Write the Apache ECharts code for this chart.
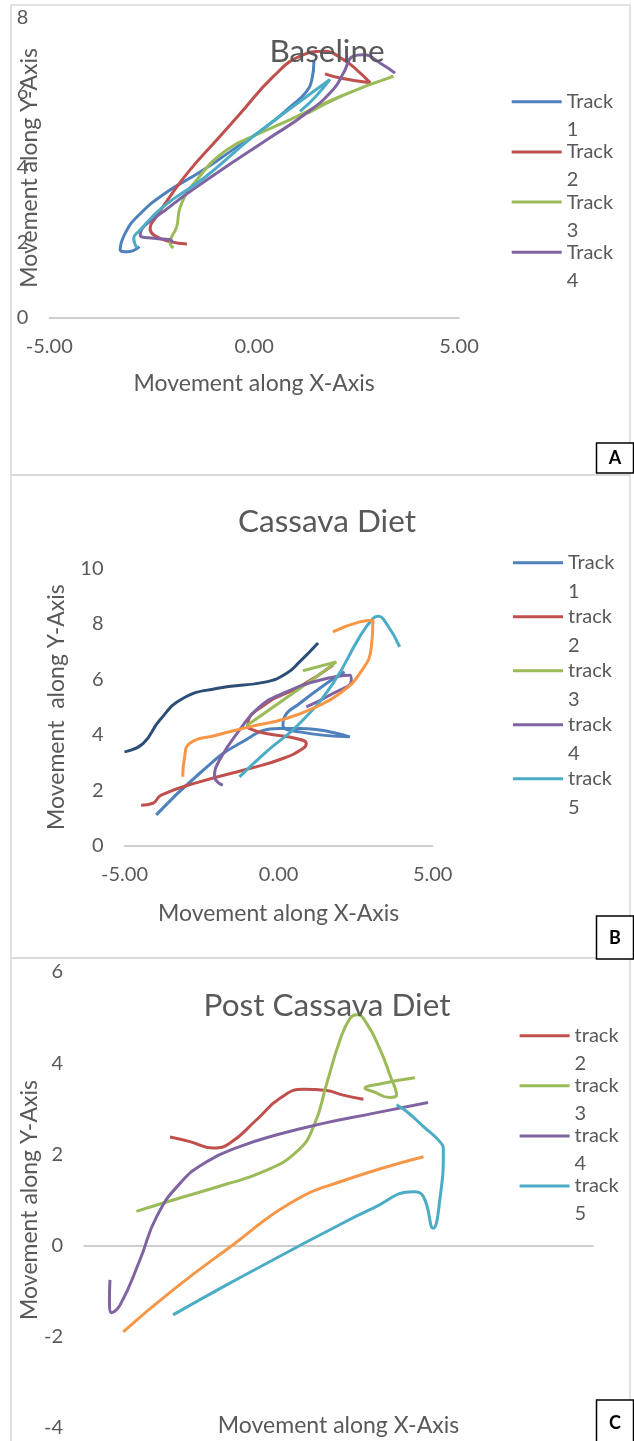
<!DOCTYPE html>
<html>
<head>
<meta charset="utf-8">
<script src="https://cdn.jsdelivr.net/npm/echarts@6/dist/echarts.min.js"></script>
<style>
  html, body { margin: 0; padding: 0; background: #fff; }
  #chart { width: 634px; height: 1441px; }
</style>
</head>
<body>
<div id="chart"></div>
<script>
// axis ticks
const xTicks = [-5, 0, 5]
const yTicksA = [0, 2, 4, 6, 8]
const yTicksB = [0, 2, 4, 6, 8, 10]
const yTicksC = [-4, -2, 0, 2, 4, 6]

// A - Baseline  ([x, y])
const baseTrack1 = [[1.46, 6.85], [1.41, 6.36], [1.25, 6.0], [0.9, 5.65], [0.3, 5.1], [-0.5, 4.5], [-1.3, 3.9], [-2.2, 3.3], [-2.85, 2.7], [-3.15, 2.25], [-3.27, 1.82], [-3.1, 1.76], [-2.8, 1.9]]
const baseTrack2 = [[-1.64, 1.97], [-2.05, 2.03], [-2.45, 2.21], [-2.54, 2.39], [-2.41, 2.66], [-2.05, 3.24], [-1.6, 3.9], [-0.91, 4.75], [-0.34, 5.45], [0.47, 6.44], [1.12, 6.98], [1.69, 7.11], [2.18, 6.89], [2.59, 6.53], [2.83, 6.27], [2.1, 6.4], [1.73, 6.51]]
const baseTrack3 = [[-1.97, 1.86], [-2.05, 2.0], [-1.89, 2.43], [-1.8, 2.97], [-1.4, 3.68], [-0.67, 4.48], [0.15, 4.93], [0.88, 5.29], [2.1, 5.91], [3.4, 6.44], [2.2, 5.95], [1.3, 5.45]]
const baseTrack4 = [[-2.0, 1.99], [-2.05, 2.08], [-2.45, 2.12], [-2.78, 2.21], [-2.05, 2.97], [-0.91, 3.86], [0.31, 4.75], [1.29, 5.47], [1.93, 6.09], [2.18, 6.53], [2.42, 6.98], [2.67, 7.02], [3.07, 6.8], [3.44, 6.53]]
const baseTrack5 = [[-2.86, 1.86], [-2.94, 2.12], [-2.82, 2.3], [-2.21, 2.97], [-1.2, 3.75], [-0.02, 4.84], [1.29, 5.91], [1.85, 6.36], [1.5, 5.9], [1.12, 5.51]]

// B - Cassava Diet
const cassTrack1 = [[-3.97, 1.12], [-2.56, 2.62], [-1.27, 3.69], [0.03, 4.23], [0.68, 4.23], [2.31, 3.93], [0.68, 4.11], [0.14, 4.35], [0.19, 4.65], [0.68, 5.13], [1.55, 5.85], [2.14, 6.27]]
const cassTrack2 = [[-4.46, 1.47], [-4.08, 1.54], [-3.81, 1.83], [-2.56, 2.31], [-0.94, 2.79], [0.14, 3.15], [0.79, 3.51], [0.9, 3.69], [0.57, 3.87], [-0.4, 4.05], [-0.94, 4.23], [-1.0, 4.35], [-0.4, 5.13], [0.68, 5.73], [1.76, 6.51]]
const cassTrack3 = [[0.79, 6.31], [1.87, 6.63], [1.22, 6.09], [0.14, 5.25], [-0.94, 4.41], [-1.05, 4.35]]
const cassTrack4 = [[-1.81, 2.19], [-2.08, 2.49], [-1.92, 3.09], [-1.27, 4.17], [-0.62, 5.01], [0.25, 5.55], [1.33, 5.97], [2.31, 6.15], [2.36, 5.97], [1.76, 5.49], [0.9, 5.01]]
const cassTrack5 = [[-1.27, 2.49], [-0.4, 3.39], [0.68, 4.41], [1.76, 5.85], [2.63, 7.53], [3.06, 8.19], [3.22, 8.27], [3.5, 8.01], [3.93, 7.17]]
const cassTrack6 = [[-3.11, 2.49], [-3.05, 3.21], [-2.89, 3.69], [-2.02, 3.99], [-0.94, 4.29], [0.25, 4.59], [1.22, 5.01], [1.98, 5.49], [2.63, 6.21], [3.01, 7.17], [3.06, 8.13], [2.63, 8.07], [1.76, 7.71]]
const cassTrack7 = [[-5.0, 3.39], [-4.4, 3.69], [-3.86, 4.53], [-3.11, 5.31], [-2.02, 5.67], [-0.4, 5.91], [0.25, 6.21], [0.68, 6.63], [1.28, 7.31]]

// C - Post Cassava Diet
const postTrack2 = [[-3.31, 2.38], [-2.92, 2.28], [-2.46, 2.14], [-2.13, 2.25], [-1.61, 2.76], [-1.15, 3.23], [-0.69, 3.43], [-0.23, 3.4], [0.09, 3.3], [0.49, 3.21]]
const postTrack3 = [[-3.97, 0.75], [-3.25, 1.0], [-2.26, 1.33], [-1.48, 1.62], [-0.82, 2.06], [-0.49, 2.61], [-0.23, 3.56], [0.03, 4.51], [0.23, 4.99], [0.36, 5.06], [0.55, 4.88], [0.82, 4.29], [1.01, 3.74], [1.14, 3.3], [1.01, 3.25], [0.68, 3.38], [0.52, 3.45], [0.88, 3.56], [1.5, 3.68]]
const postTrack4 = [[-4.49, -0.75], [-4.5, -1.19], [-4.46, -1.47], [-4.29, -1.3], [-3.9, -0.31], [-3.57, 0.64], [-3.11, 1.37], [-2.59, 1.84], [-1.94, 2.17], [-1.21, 2.43], [-0.3, 2.68], [0.68, 2.9], [1.76, 3.14]]
const postTrack5 = [[-3.25, -1.52], [-2.26, -0.9], [-1.28, -0.31], [-0.3, 0.27], [0.68, 0.82], [1.47, 1.18], [1.67, 1.07], [1.86, 0.38], [1.99, 1.0], [2.06, 2.1], [1.99, 2.28], [1.67, 2.61], [1.34, 2.94], [1.14, 3.09]]
const postTrack6 = [[-4.23, -1.89], [-3.25, -0.97], [-2.07, 0.02], [-0.95, 0.93], [0.03, 1.4], [1.67, 1.95]]

const colors = {
  blue: '#4F81BD', red: '#C0504D', green: '#9BBB59', purple: '#8064A2',
  aqua: '#4BACC6', orange: '#F79646', navy: '#2C4D75'
}

const font = 'Lato, "Open Sans", sans-serif'
const grey = '#595959'

const chart = echarts.init(document.getElementById('chart'))

function track(name, data, color, gridIndex) {
  return {
    name: name,
    type: 'line',
    xAxisIndex: gridIndex,
    yAxisIndex: gridIndex,
    data: data,
    smooth: 0.5,
    symbol: 'none',
    showSymbol: false,
    lineStyle: { color: color, width: 3 },
    itemStyle: { color: color },
    animation: false
  }
}

function xAxis(gridIndex, nameGap) {
  return {
    type: 'value',
    gridIndex: gridIndex,
    min: xTicks[0],
    max: xTicks[xTicks.length - 1],
    interval: 5,
    name: 'Movement along X-Axis',
    nameLocation: 'middle',
    nameGap: nameGap,
    nameMoveOverlap: false,
    nameTextStyle: { fontFamily: font, fontSize: 23, color: grey },
    axisLine: { onZero: true, lineStyle: { color: '#bfbfbf', width: 1.5 } },
    axisTick: { show: false },
    splitLine: { show: false },
    axisLabel: {
      fontFamily: font, fontSize: 20, color: grey, margin: 19,
      formatter: v => v.toFixed(2)
    }
  }
}

function yAxis(gridIndex, ticks, name, nameGap) {
  return {
    type: 'value',
    gridIndex: gridIndex,
    min: ticks[0],
    max: ticks[ticks.length - 1],
    interval: 2,
    name: name,
    nameLocation: 'middle',
    nameGap: nameGap,
    nameMoveOverlap: false,
    nameTextStyle: { fontFamily: font, fontSize: 23, color: grey },
    axisLine: { show: false },
    axisTick: { show: false },
    splitLine: { show: false },
    axisLabel: { fontFamily: font, fontSize: 20, color: grey, margin: 21 }
  }
}

function legend(names, left, top, lineH, gap) {
  return {
    orient: 'vertical',
    left: left,
    top: top,
    padding: 0,
    icon: 'rect',
    itemWidth: 50,
    itemHeight: 3,
    itemGap: gap,
    data: names,
    formatter: n => ' \n' + n.split('|')[1].replace(' ', '\n'),
    textStyle: { fontFamily: font, fontSize: 20, color: grey, lineHeight: lineH }
  }
}

const titleStyle = { fontFamily: font, fontSize: 31.5, fontWeight: 'normal', color: grey }

const option = {
  animation: false,
  title: [
    { text: 'Baseline', left: 322, top: 31, textAlign: 'center', textStyle: titleStyle },
    { text: 'Cassava Diet', left: 322, top: 501, textAlign: 'center', textStyle: titleStyle },
    { text: 'Post Cassava Diet', left: 322, top: 985, textAlign: 'center', textStyle: titleStyle }
  ],
  grid: [
    { left: 49.3, top: 18, width: 409.7, height: 299.7, outerBoundsMode: 'none', containLabel: false },
    { left: 124.5, top: 568.3, width: 308.2, height: 277.7, outerBoundsMode: 'none', containLabel: false },
    { left: 84, top: 972, width: 509, height: 456, outerBoundsMode: 'none', containLabel: false }
  ],
  xAxis: [xAxis(0, 54), xAxis(1, 56), xAxis(2, -14)],
  yAxis: [
    yAxis(0, yTicksA, 'Movement along Y-Axis', 8),
    yAxis(1, yTicksB, 'Movement  along Y-Axis', 56),
    yAxis(2, yTicksC, 'Movement along Y-Axis', 43)
  ],
  legend: [
    legend(['A|Track 1', 'A|Track 2', 'A|Track 3', 'A|Track 4'], 511.7, 59.7, 28, -33.8),
    legend(['B|Track 1', 'B|track 2', 'B|track 3', 'B|track 4', 'B|track 5'], 513, 519.2, 29, -33),
    legend(['C|track 2', 'C|track 3', 'C|track 4', 'C|track 5'], 519.6, 993.7, 28, -33.9)
  ],
  series: [
    track('A|Track 1', baseTrack1, colors.blue, 0),
    track('A|Track 2', baseTrack2, colors.red, 0),
    track('A|Track 3', baseTrack3, colors.green, 0),
    track('A|Track 4', baseTrack4, colors.purple, 0),
    track('A|extra 5', baseTrack5, colors.aqua, 0),
    track('B|Track 1', cassTrack1, colors.blue, 1),
    track('B|track 2', cassTrack2, colors.red, 1),
    track('B|track 3', cassTrack3, colors.green, 1),
    track('B|track 4', cassTrack4, colors.purple, 1),
    track('B|track 5', cassTrack5, colors.aqua, 1),
    track('B|extra 6', cassTrack6, colors.orange, 1),
    track('B|extra 7', cassTrack7, colors.navy, 1),
    track('C|track 2', postTrack2, colors.red, 2),
    track('C|track 3', postTrack3, colors.green, 2),
    track('C|track 4', postTrack4, colors.purple, 2),
    track('C|track 5', postTrack5, colors.aqua, 2),
    track('C|extra 6', postTrack6, colors.orange, 2)
  ],
  graphic: [
    // panel frames
    { type: 'rect', shape: { x: 11, y: 5, width: 619, height: 470 }, style: { fill: 'none', stroke: '#d9d9d9', lineWidth: 1.5 }, silent: true },
    { type: 'rect', shape: { x: 11, y: 475, width: 619, height: 483 }, style: { fill: 'none', stroke: '#d9d9d9', lineWidth: 1.5 }, silent: true },
    { type: 'rect', shape: { x: 11, y: 958, width: 619, height: 490 }, style: { fill: 'none', stroke: '#d9d9d9', lineWidth: 1.5 }, silent: true },
    // letter boxes
    { type: 'rect', shape: { x: 596.5, y: 443, width: 37, height: 30 }, style: { fill: '#fff', stroke: '#000', lineWidth: 1.5 }, silent: true },
    { type: 'text', x: 615, y: 458, style: { text: 'A', font: 'bold 18px ' + font, fill: '#000', align: 'center', verticalAlign: 'middle' }, silent: true },
    { type: 'rect', shape: { x: 596.5, y: 916, width: 37, height: 43 }, style: { fill: '#fff', stroke: '#000', lineWidth: 1.5 }, silent: true },
    { type: 'text', x: 615, y: 938, style: { text: 'B', font: 'bold 18px ' + font, fill: '#000', align: 'center', verticalAlign: 'middle' }, silent: true },
    { type: 'rect', shape: { x: 596.5, y: 1400, width: 37, height: 45 }, style: { fill: '#fff', stroke: '#000', lineWidth: 1.5 }, silent: true },
    { type: 'text', x: 615, y: 1423, style: { text: 'C', font: 'bold 18px ' + font, fill: '#000', align: 'center', verticalAlign: 'middle' }, silent: true }
  ]
}

chart.setOption(option)
</script>
</body>
</html>
